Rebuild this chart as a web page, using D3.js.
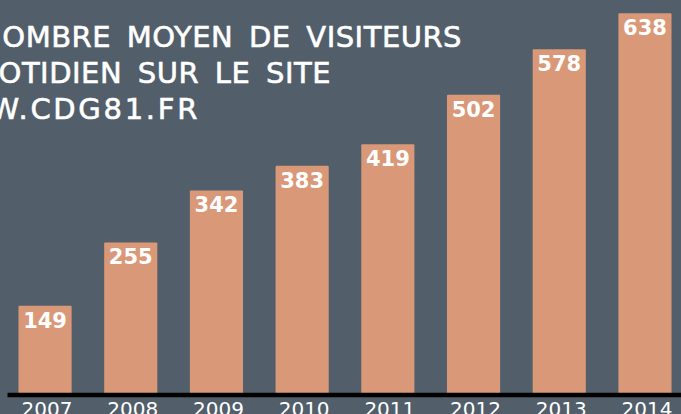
<!DOCTYPE html>
<html>
<head>
<meta charset="utf-8">
<script src="https://cdn.jsdelivr.net/npm/d3@7"></script>
<style>
  html, body { margin: 0; padding: 0; background: #525f6b; overflow: hidden; }
  svg { display: block; }
</style>
</head>
<body>
<svg id="chart" width="681" height="414"></svg>
<script>
const years = ['2007', '2008', '2009', '2010', '2011', '2012', '2013', '2014'];
const visitors = [149, 255, 342, 383, 419, 502, 578, 638];
const titleLines = ['NOMBRE MOYEN DE VISITEURS', 'QUOTIDIEN SUR LE SITE', 'WWW.CDG81.FR'];

const svg = d3.select('#chart');
const width = +svg.attr('width');
const height = +svg.attr('height');

svg.append('rect')
  .attr('width', width)
  .attr('height', height)
  .attr('fill', '#525f6b');

const x = d3.scaleBand()
  .domain(years)
  .range([2.2, 687.8])
  .paddingInner(0.38)
  .paddingOuter(0.19);

const y = d3.scaleLinear()
  .domain([0, d3.max(visitors)])
  .range([395, 13.3]);

const data = years.map((year, i) => ({ year, value: visitors[i] }));

// bars
svg.selectAll('.bar')
  .data(data)
  .enter()
  .append('rect')
  .attr('class', 'bar')
  .attr('x', d => x(d.year))
  .attr('y', d => y(d.value))
  .attr('width', x.bandwidth())
  .attr('height', d => y(0) - y(d.value))
  .attr('rx', 1)
  .attr('fill', '#d99877');

// value labels
svg.selectAll('.value')
  .data(data)
  .enter()
  .append('text')
  .attr('class', 'value')
  .attr('x', d => x(d.year) + x.bandwidth() / 2)
  .attr('y', d => y(d.value) + 22)
  .attr('text-anchor', 'middle')
  .attr('font-family', 'DejaVu Sans')
  .attr('font-weight', 'bold')
  .attr('font-size', 21)
  .attr('fill', '#ffffff')
  .text(d => d.value);

// x axis: thick black baseline, years below
const xAxis = svg.append('g')
  .attr('transform', `translate(0, ${y(0)})`)
  .call(d3.axisBottom(x).tickSize(0).tickPadding(8));

xAxis.select('.domain').remove();
xAxis.append('line')
  .attr('x1', 7.5)
  .attr('x2', width)
  .attr('y1', 0)
  .attr('y2', 0)
  .attr('stroke', '#000')
  .attr('stroke-width', 4.5);

xAxis.selectAll('.tick text')
  .attr('dx', 2)
  .attr('y', 0)
  .attr('dy', 21)
  .attr('font-family', 'DejaVu Sans')
  .attr('font-size', 20)
  .attr('fill', '#ffffff');

// title, cut off on the left as in the original
const titleRight = [462, 331, 200];
const titleSpacing = [0.5, 0.5, 2.7];
svg.append('g')
  .selectAll('text')
  .data(titleLines)
  .enter()
  .append('text')
  .attr('x', (d, i) => titleRight[i])
  .attr('y', (d, i) => 46.5 + i * 36)
  .attr('text-anchor', 'end')
  .attr('font-family', 'DejaVu Sans')
  .attr('font-size', 29)
  .attr('letter-spacing', (d, i) => titleSpacing[i])
  .attr('word-spacing', 6)
  .attr('fill', '#ffffff')
  .attr('stroke', '#ffffff')
  .attr('stroke-width', 0.6)
  .text(d => d);
</script>
</body>
</html>
